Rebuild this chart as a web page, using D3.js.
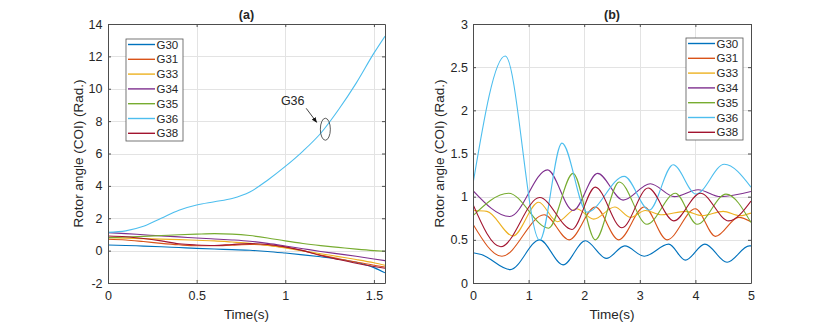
<!DOCTYPE html>
<meta charset="utf-8">
<html>
<head>
    <title>Rotor angle (COI)</title>
    <script src="https://cdn.jsdelivr.net/npm/d3@7"></script>
</head>
<style>
    body{
        margin: 0;
        background: white;
    }
    svg{
        display: block;
    }
    text{
        font-family: "Liberation Sans", Arial, sans-serif;
        fill: #262626;
    }
    .grid line{
        stroke: #e3e3e3;
        stroke-width: 1px;
    }
    .series{
        fill: none;
        stroke-width: 1.1px;
    }
</style>
<body>
<svg width="830" height="323"></svg>

<script>
    // ***************************************
    //        data
    // ***************************************
    const names = ["G30", "G31", "G33", "G34", "G35", "G36", "G38"]
    const colors = ["#0072BD", "#D95319", "#EDB120", "#7E2F8E", "#77AC30", "#4DBEEE", "#A2142F"]

    // panel (a): unstable case, common time base
    const timeA = [0, 0.1, 0.2, 0.3, 0.4, 0.5, 0.6, 0.7, 0.8, 0.9, 1.0, 1.1, 1.2, 1.3, 1.4, 1.5, 1.5625]
    const a_G30 = [0.35, 0.32, 0.28, 0.24, 0.19, 0.14, 0.1, 0.06, 0.02, -0.05, -0.15, -0.26, -0.38, -0.52, -0.72, -1.05, -1.37]
    const a_G31 = [0.7, 0.66, 0.56, 0.45, 0.36, 0.3, 0.3, 0.34, 0.38, 0.34, 0.19, 0.0, -0.28, -0.5, -0.7, -0.9, -1.01]
    const a_G33 = [0.8, 0.77, 0.74, 0.71, 0.68, 0.64, 0.6, 0.53, 0.45, 0.32, 0.16, -0.02, -0.19, -0.37, -0.55, -0.75, -0.9]
    const a_G34 = [1.11, 1.05, 0.98, 0.91, 0.85, 0.78, 0.72, 0.66, 0.58, 0.45, 0.29, 0.12, -0.05, -0.2, -0.35, -0.52, -0.62]
    const a_G35 = [0.8, 0.84, 0.88, 0.93, 0.98, 1.02, 1.05, 1.02, 0.93, 0.78, 0.6, 0.44, 0.31, 0.2, 0.09, 0.0, -0.04]
    const a_G36 = [1.13, 1.22, 1.5, 2.0, 2.5, 2.82, 3.02, 3.22, 3.62, 4.35, 5.2, 6.15, 7.25, 8.7, 10.35, 12.2, 13.25]
    const a_G38 = [0.9, 0.86, 0.75, 0.6, 0.42, 0.35, 0.32, 0.38, 0.43, 0.38, 0.23, 0.0, -0.3, -0.55, -0.78, -0.98, -1.09]

    // panel (b): stable case, values read at turning points
    const b_G30_t = [0, 0.15, 0.67, 1.2, 1.62, 2.02, 2.4, 2.73, 3.08, 3.52, 3.82, 4.17, 4.57, 4.97, 5]
    const b_G30_v = [0.35, 0.33, 0.155, 0.5, 0.21, 0.49, 0.285, 0.43, 0.31, 0.45, 0.265, 0.45, 0.24, 0.43, 0.43]
    const b_G31_t = [0, 0.52, 1.28, 1.73, 2.2, 2.62, 3.08, 3.49, 4.0, 4.36, 4.78, 5]
    const b_G31_v = [0.68, 0.31, 0.79, 0.5, 0.88, 0.5, 0.88, 0.5, 0.86, 0.54, 0.76, 0.71]
    const b_G33_t = [0, 0.25, 0.72, 1.18, 1.52, 1.86, 2.17, 2.55, 2.83, 3.1, 3.4, 3.82, 4.12, 4.5, 4.8, 5]
    const b_G33_v = [0.84, 0.83, 0.545, 0.935, 0.71, 0.86, 0.74, 0.88, 0.76, 0.84, 0.79, 0.83, 0.78, 0.83, 0.78, 0.81]
    const b_G34_t = [0, 0.66, 1.34, 1.8, 2.24, 2.7, 3.19, 3.62, 4.05, 4.45, 5]
    const b_G34_v = [1.07, 0.77, 1.31, 0.84, 1.27, 0.96, 1.15, 1.0, 1.08, 1.0, 1.06]
    const b_G35_t = [0, 0.64, 1.36, 1.8, 2.2, 2.63, 3.13, 3.64, 4.03, 4.55, 5]
    const b_G35_v = [0.78, 1.04, 0.635, 1.27, 0.5, 1.17, 0.68, 1.04, 0.68, 1.03, 0.7]
    const b_G36_t = [0, 0.58, 1.2, 1.6, 2.05, 2.72, 3.17, 3.6, 4.01, 4.52, 5]
    const b_G36_v = [1.15, 2.63, 0.495, 1.62, 0.82, 1.235, 0.845, 1.37, 1.03, 1.375, 1.11]
    const b_G38_t = [0, 0.5, 1.2, 1.78, 2.2, 2.68, 3.15, 3.61, 4.09, 4.6, 5]
    const b_G38_v = [0.91, 0.42, 0.99, 0.62, 1.11, 0.64, 1.1, 0.72, 1.04, 0.72, 0.95]

    // tick labels
    const xTicksA = [0, 0.5, 1, 1.5]
    const yTicksA = [-2, 0, 2, 4, 6, 8, 10, 12, 14]
    const xTicksB = [0, 1, 2, 3, 4, 5]
    const yTicksB = [0, 0.5, 1, 1.5, 2, 2.5, 3]

    const zip = (t, v) => t.map((d, i) => [d, v[i]])
    const seriesA = [a_G30, a_G31, a_G33, a_G34, a_G35, a_G36, a_G38].map(v => zip(timeA, v))
    const seriesB = [
        zip(b_G30_t, b_G30_v), zip(b_G31_t, b_G31_v), zip(b_G33_t, b_G33_v), zip(b_G34_t, b_G34_v),
        zip(b_G35_t, b_G35_v), zip(b_G36_t, b_G36_v), zip(b_G38_t, b_G38_v)
    ]

    const svg = d3.select("svg")

    // ***************************************
    //        one MATLAB-like axes
    // ***************************************
    function drawPanel(p) {
        const x = d3.scaleLinear().domain(p.xDomain).range([p.left, p.right])
        const y = d3.scaleLinear().domain(p.yDomain).range([p.bottom, p.top])
        const g = svg.append("g")

        // grid
        const grid = g.append("g").attr("class", "grid")
        grid.selectAll(".gx").data(p.xTicks).enter().append("line")
            .attr("x1", d => Math.round(x(d)) + 0.5).attr("x2", d => Math.round(x(d)) + 0.5)
            .attr("y1", p.top).attr("y2", p.bottom)
        grid.selectAll(".gy").data(p.yTicks).enter().append("line")
            .attr("y1", d => Math.round(y(d)) + 0.5).attr("y2", d => Math.round(y(d)) + 0.5)
            .attr("x1", p.left).attr("x2", p.right)

        // lines
        const line = d3.line().x(d => x(d[0])).y(d => y(d[1])).curve(d3.curveMonotoneX)
        const clipId = "clip" + p.id
        g.append("clipPath").attr("id", clipId).append("rect")
            .attr("x", p.left).attr("y", p.top).attr("width", p.right - p.left).attr("height", p.bottom - p.top)
        g.append("g").attr("clip-path", `url(#${clipId})`)
            .selectAll("path").data(p.series).enter().append("path")
            .attr("class", "series")
            .attr("d", line)
            .attr("stroke", (d, i) => colors[i])

        // axes with inward ticks on all four sides
        const tk = 3
        g.append("g").attr("transform", `translate(0,${p.bottom})`)
            .call(d3.axisBottom(x).tickValues(p.xTicks).tickSizeInner(-tk).tickSizeOuter(0).tickPadding(8).tickFormat(d => String(d)))
        g.append("g").attr("transform", `translate(0,${p.top})`)
            .call(d3.axisTop(x).tickValues(p.xTicks).tickSizeInner(-tk).tickSizeOuter(0).tickFormat(""))
        g.append("g").attr("transform", `translate(${p.left},0)`)
            .call(d3.axisLeft(y).tickValues(p.yTicks).tickSizeInner(-tk).tickSizeOuter(0).tickPadding(p.yPad).tickFormat(d => String(d)))
        g.append("g").attr("transform", `translate(${p.right},0)`)
            .call(d3.axisRight(y).tickValues(p.yTicks).tickSizeInner(-tk).tickSizeOuter(0).tickFormat(""))
        g.selectAll(".domain, .tick line").attr("stroke", "#4d4d4d")
        g.selectAll(".tick text").attr("font-size", "12.5px").attr("fill", "#262626")
            .style("font-family", '"Liberation Sans", Arial, sans-serif')

        // title and labels
        g.append("text").attr("x", (p.left + p.right) / 2).attr("y", 19)
            .attr("text-anchor", "middle").attr("font-weight", "bold").attr("font-size", "12.5px")
            .text(p.title)
        g.append("text").attr("x", (p.left + p.right) / 2).attr("y", 319)
            .attr("text-anchor", "middle").attr("font-size", "13.5px")
            .text("Time(s)")
        g.append("text")
            .attr("transform", `translate(${p.labelX},${(p.top + p.bottom) / 2}) rotate(-90)`)
            .attr("text-anchor", "middle").attr("font-size", "13.5px")
            .text("Rotor angle (COI) (Rad.)")

        // legend
        const lg = g.append("g")
        lg.append("rect").attr("x", p.legend.x).attr("y", p.legend.y)
            .attr("width", 57).attr("height", 102)
            .attr("fill", "white").attr("stroke", "#555").attr("stroke-width", 0.8)
        const rows = lg.selectAll(".row").data(names).enter().append("g")
            .attr("transform", (d, i) => `translate(${p.legend.x},${p.legend.y + 5.5 + i * 14.8})`)
        rows.append("line").attr("x1", 2).attr("x2", 29).attr("y1", 0).attr("y2", 0)
            .attr("stroke", (d, i) => colors[i]).attr("stroke-width", 1.4)
        rows.append("text").attr("x", 30.5).attr("y", 4).attr("font-size", "11.5px").text(d => d)

        return {x, y, g}
    }

    const pa = drawPanel({
        id: "a", title: "(a)", left: 108, right: 385, top: 24, bottom: 283,
        xDomain: [0, 1.5625], yDomain: [-2, 14], xTicks: xTicksA, yTicks: yTicksA,
        series: seriesA, legend: {x: 126, y: 39}, yPad: 5.5, labelX: 82.5
    })
    drawPanel({
        id: "b", title: "(b)", left: 473, right: 751, top: 24, bottom: 283,
        xDomain: [0, 5], yDomain: [0, 3], xTicks: xTicksB, yTicks: yTicksB,
        series: seriesB, legend: {x: 686, y: 38}, yPad: 5, labelX: 444
    })

    // ***************************************
    //        G36 annotation in panel (a)
    // ***************************************
    svg.append("defs").append("marker")
        .attr("id", "head").attr("viewBox", "0 0 10 10").attr("refX", 9).attr("refY", 5)
        .attr("markerWidth", 7).attr("markerHeight", 7).attr("orient", "auto")
        .append("path").attr("d", "M0,1 L10,5 L0,9 Z").attr("fill", "#111")
    pa.g.append("text").attr("x", pa.x(1.042)).attr("y", pa.y(8.98))
        .attr("text-anchor", "middle").attr("font-size", "12.5px").text("G36")
    pa.g.append("line")
        .attr("x1", pa.x(1.118)).attr("y1", pa.y(8.79))
        .attr("x2", pa.x(1.177)).attr("y2", pa.y(7.93))
        .attr("stroke", "#111").attr("stroke-width", 0.8).attr("marker-end", "url(#head)")
    pa.g.append("ellipse").attr("cx", pa.x(1.226)).attr("cy", pa.y(7.5))
        .attr("rx", 5).attr("ry", 11)
        .attr("fill", "none").attr("stroke", "#333").attr("stroke-width", 0.8)
</script>
</body>
</html>
